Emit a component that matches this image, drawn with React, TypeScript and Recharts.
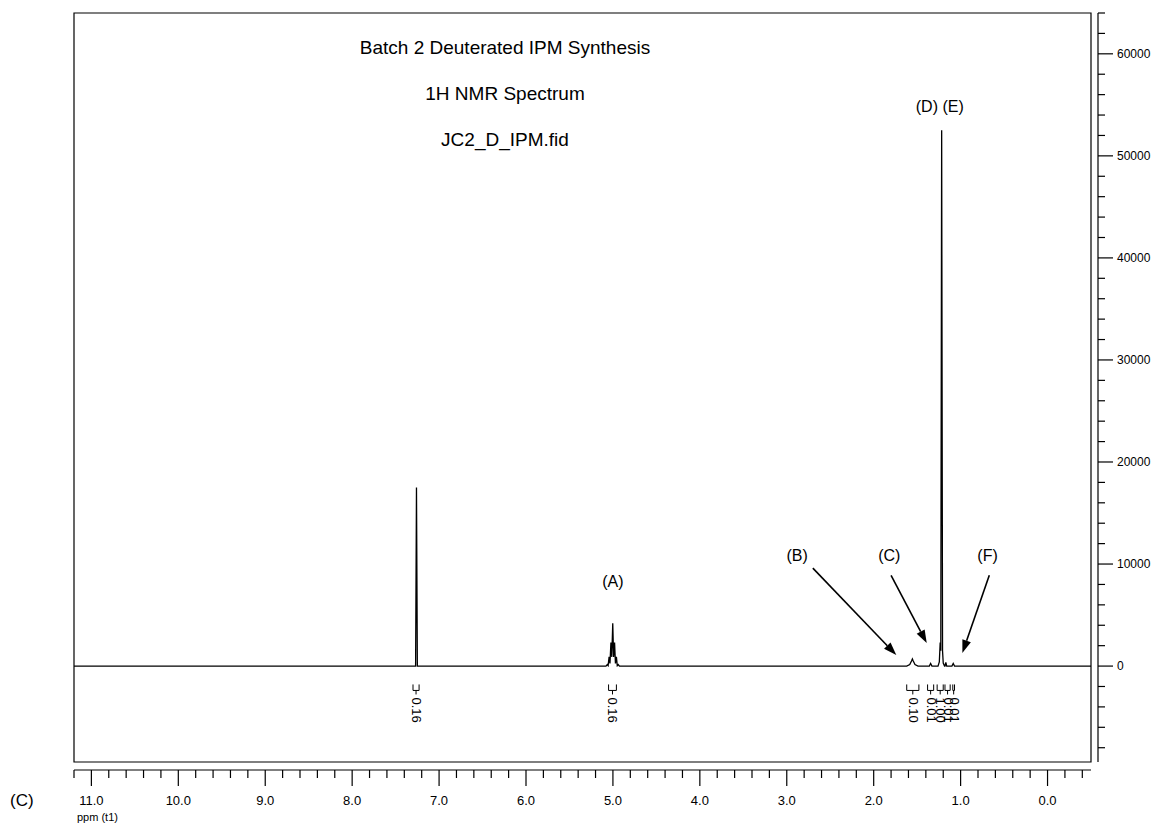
import React from 'react'
import { LineChart, Line, XAxis, YAxis, ReferenceArea, ReferenceLine, ReferenceDot } from 'recharts'

const FONT = '"Liberation Sans", Arial, Helvetica, sans-serif'

// spectrum trace, [ppm, intensity] from high field edge to low field edge
const spectrum: [number, number][] = [
  [11.2, 0],
  // CHCl3 residual
  [7.27, 0], [7.26, 17500], [7.25, 0],
  // (A) septet
  [5.08, 0], [5.065, 150], [5.055, 40], [5.044, 900], [5.034, 250], [5.023, 2300], [5.013, 900],
  [5.002, 4200], [4.992, 900], [4.981, 2300], [4.971, 250], [4.96, 900], [4.95, 40], [4.939, 150], [4.925, 0],
  // (B) water
  [1.62, 0], [1.585, 150], [1.565, 500], [1.555, 700], [1.545, 500], [1.525, 150], [1.49, 0],
  // (C)
  [1.36, 0], [1.345, 250], [1.33, 0],
  // (D) (E) methyl doublet
  [1.26, 0], [1.245, 400], [1.235, 2300], [1.228, 1500], [1.218, 52500], [1.208, 1500], [1.2, 300], [1.185, 0],
  [1.18, 0], [1.17, 350], [1.16, 0],
  // (F)
  [1.1, 0], [1.085, 250], [1.07, 0],
  [-0.5, 0],
]
const data = spectrum.map(([ppm, i]) => ({ ppm, i }))

// integration regions: from, to, value
const integrals: [number, number, string][] = [
  [7.3, 7.23, '0.16'],
  [5.05, 4.96, '0.16'],
  [1.62, 1.48, '0.10'],
  [1.38, 1.31, '0.01'],
  [1.27, 1.2, '1.00'],
  [1.18, 1.12, '0.01'],
  [1.09, 1.07, '0.01'],
]

// peak labels: text, ppm, height
const peakLabels: [string, number, number][] = [
  ['(A)', 5.0, 8300],
  ['(B)', 2.88, 10800],
  ['(C)', 1.82, 10800],
  ['(F)', 0.69, 10800],
  ['(D) (E)', 1.24, 54800],
]

// arrows: start ppm, start height, end ppm, end height
const arrows: [number, number, number, number][] = [
  [2.7, 9600, 1.74, 1080],
  [1.8, 8900, 1.39, 2250],
  [0.67, 8900, 0.98, 1270],
]

const xTicks = [
  -0.4, -0.2, 0, 0.2, 0.4, 0.6, 0.8, 1, 1.2, 1.4, 1.6, 1.8, 2, 2.2, 2.4, 2.6, 2.8, 3, 3.2, 3.4, 3.6, 3.8,
  4, 4.2, 4.4, 4.6, 4.8, 5, 5.2, 5.4, 5.6, 5.8, 6, 6.2, 6.4, 6.6, 6.8, 7, 7.2, 7.4, 7.6, 7.8, 8, 8.2, 8.4,
  8.6, 8.8, 9, 9.2, 9.4, 9.6, 9.8, 10, 10.2, 10.4, 10.6, 10.8, 11, 11.2,
]
const yTicks = [
  -8000, -6000, -4000, -2000, 0, 2000, 4000, 6000, 8000, 10000, 12000, 14000, 16000, 18000, 20000, 22000,
  24000, 26000, 28000, 30000, 32000, 34000, 36000, 38000, 40000, 42000, 44000, 46000, 48000, 50000, 52000,
  54000, 56000, 58000, 60000, 62000, 64000,
]
const titleLines = ['Batch 2 Deuterated IPM Synthesis', '1H NMR Spectrum', 'JC2_D_IPM.fid']

const X_DOMAIN: [number, number] = [-0.5, 11.2]
const Y_DOMAIN: [number, number] = [-9400, 64000]

const isWhole = (v: number) => Math.abs(v - Math.round(v)) < 1e-6

const PpmTick = (props: any) => {
  const { x, y, payload } = props
  const major = isWhole(payload.value)
  return (
    <g>
      <line x1={x} x2={x} y1={y} y2={y + (major ? 16 : 8)} stroke="#000" strokeWidth={1.2} />
      {major && (
        <text x={x} y={y + 35} textAnchor="middle" fontSize={13} fontFamily={FONT} fill="#000">
          {payload.value.toFixed(1)}
        </text>
      )}
    </g>
  )
}

const IntensityTick = (props: any) => {
  const { x, y, payload } = props
  const major = payload.value >= 0 && payload.value % 10000 === 0
  return (
    <g>
      <line x1={x} x2={x + (major ? 15 : 7)} y1={y} y2={y} stroke="#000" strokeWidth={1.2} />
      {major && (
        <text x={x + 19} y={y + 4} fontSize={12} fontFamily={FONT} fill="#000">
          {payload.value}
        </text>
      )}
    </g>
  )
}

const Arrow = (props: any) => {
  const { x1, y1, x2, y2 } = props
  const a = Math.atan2(y2 - y1, x2 - x1)
  const len = 13
  const w = 4.5
  const bx = x2 - len * Math.cos(a)
  const by = y2 - len * Math.sin(a)
  const px = -Math.sin(a) * w
  const py = Math.cos(a) * w
  return (
    <g>
      <line x1={x1} y1={y1} x2={bx} y2={by} stroke="#000" strokeWidth={1.6} />
      <polygon points={`${x2},${y2} ${bx + px},${by + py} ${bx - px},${by - py}`} fill="#000" />
    </g>
  )
}

const integralShape = (label: string) => (props: any) => {
  const { x, y, width } = props
  const mid = x + width / 2
  return (
    <g stroke="#000" strokeWidth={1} fill="none">
      <path d={`M${x},${y} L${x},${y + 6} L${x + width},${y + 6} L${x + width},${y} M${mid},${y + 6} L${mid},${y + 10}`} />
      <text
        transform={`translate(${mid - 4},${y + 13}) rotate(90)`}
        fontSize={13}
        fontFamily={FONT}
        fill="#000"
        stroke="none"
      >
        {label}
      </text>
    </g>
  )
}

export default function App() {
  return (
    <div style={{ position: 'absolute', left: 0, top: 0, width: 1157, height: 828, background: '#fff' }}>
      <LineChart width={1157} height={828} data={data} margin={{ top: 13, left: 74, right: 4, bottom: 8 }}>
        <XAxis xAxisId="pad" dataKey="ppm" type="number" domain={X_DOMAIN} reversed height={8} tick={false} axisLine={false} tickLine={false} allowDataOverflow />
        <XAxis
          xAxisId="x"
          dataKey="ppm"
          type="number"
          domain={X_DOMAIN}
          reversed
          allowDataOverflow
          height={50}
          ticks={xTicks}
          interval={0}
          tickSize={0}
          tickMargin={0}
          tickLine={false}
          axisLine={{ stroke: '#000', strokeWidth: 1.2 }}
          tick={<PpmTick />}
        />
        <YAxis yAxisId="pad" orientation="right" domain={Y_DOMAIN} width={7} tick={false} axisLine={false} tickLine={false} allowDataOverflow />
        <YAxis
          yAxisId="y"
          orientation="right"
          type="number"
          domain={Y_DOMAIN}
          allowDataOverflow
          width={55}
          ticks={yTicks}
          interval={0}
          tickSize={0}
          tickMargin={0}
          tickLine={false}
          axisLine={{ stroke: '#000', strokeWidth: 1.2 }}
          tick={<IntensityTick />}
        />
        <ReferenceArea
          xAxisId="x"
          yAxisId="y"
          x1={X_DOMAIN[1]}
          x2={X_DOMAIN[0]}
          y1={Y_DOMAIN[0]}
          y2={Y_DOMAIN[1]}
          fill="none"
          fillOpacity={0}
          stroke="#000"
          strokeWidth={1.2}
          ifOverflow="visible"
        />
        <Line
          xAxisId="x"
          yAxisId="y"
          dataKey="i"
          type="linear"
          stroke="#000"
          strokeWidth={1.3}
          dot={false}
          activeDot={false}
          isAnimationActive={false}
        />
        {integrals.map(([from, to, label], k) => (
          <ReferenceArea
            key={`int-${k}`}
            xAxisId="x"
            yAxisId="y"
            x1={from}
            x2={to}
            y1={-1800}
            y2={-2400}
            ifOverflow="visible"
            shape={integralShape(label)}
          />
        ))}
        {arrows.map(([xs, ys, xe, ye], k) => (
          <ReferenceLine
            key={`arrow-${k}`}
            xAxisId="x"
            yAxisId="y"
            segment={[{ x: xs, y: ys }, { x: xe, y: ye }]}
            ifOverflow="visible"
            shape={<Arrow />}
          />
        ))}
        {peakLabels.map(([text, ppm, h]) => (
          <ReferenceDot
            key={text}
            xAxisId="x"
            yAxisId="y"
            x={ppm}
            y={h}
            r={0}
            ifOverflow="visible"
            shape={(p: any) => (
              <text x={p.cx} y={p.cy} textAnchor="middle" dominantBaseline="central" fontSize={16} fontFamily={FONT} fill="#000">
                {text}
              </text>
            )}
          />
        ))}
      </LineChart>
      {titleLines.map((t, k) => (
        <div
          key={t}
          style={{
            position: 'absolute',
            left: 305,
            width: 400,
            top: 36 + k * 46,
            textAlign: 'center',
            fontFamily: FONT,
            fontSize: 19,
            color: '#000',
            lineHeight: '24px',
          }}
        >
          {t}
        </div>
      ))}
      <div style={{ position: 'absolute', left: 10, top: 791, fontFamily: FONT, fontSize: 17, color: '#000' }}>(C)</div>
      <div style={{ position: 'absolute', left: 77, top: 811, fontFamily: FONT, fontSize: 11, color: '#000' }}>ppm (t1)</div>
    </div>
  )
}
